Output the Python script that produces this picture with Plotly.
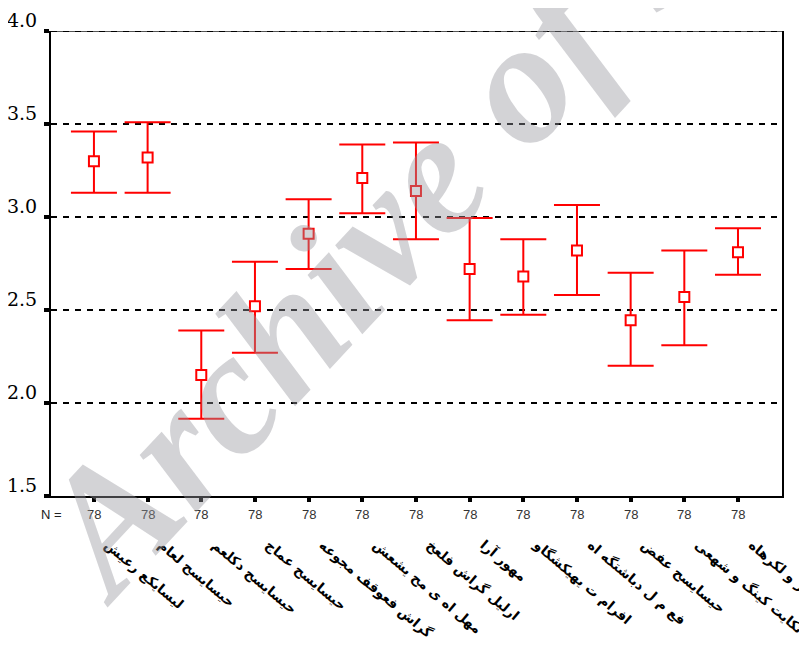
import plotly.graph_objects as go

# ---- data ----
labels = [
    "لیسایکع رعیش",
    "حیسایسح لعام",
    "حیسایسح دکلعم",
    "حیسایسح عماج",
    "گراش فعوقف مجوعه",
    "مهل اه ی مح یشعش",
    "ارلیل گراش فلعخ",
    "مهور آرا",
    "افرام ت یهیکشگاو",
    "فع م ل دباشتگه اه",
    "حیسایسح عفض",
    "تکایت کینگ و شهعی",
    "لنز و لکرهاه",
]
positions = list(range(1, 14))
means = [3.30, 3.32, 2.15, 2.52, 2.91, 3.21, 3.14, 2.72, 2.68, 2.82, 2.445, 2.57, 2.81]
upper = [3.46, 3.51, 2.39, 2.76, 3.095, 3.39, 3.40, 2.995, 2.88, 3.065, 2.70, 2.82, 2.94]
lower = [3.13, 3.13, 1.915, 2.27, 2.72, 3.02, 2.88, 2.445, 2.475, 2.58, 2.20, 2.31, 2.69]
n_values = [78] * 13
y_ticks = [1.5, 2.0, 2.5, 3.0, 3.5, 4.0]
y_ticktext = ["1.5", "2.0", "2.5", "3.0", "3.5", "4.0"]

err_plus = [u - m for u, m in zip(upper, means)]
err_minus = [m - l for m, l in zip(means, lower)]

fig = go.Figure()
fig.add_trace(go.Scatter(
    x=positions, y=means, mode="markers",
    marker=dict(symbol="square", size=10, color="white",
                line=dict(color="#ff0000", width=2)),
    error_y=dict(type="data", symmetric=False, array=err_plus, arrayminus=err_minus,
                 color="#ff0000", thickness=2, width=23),
    showlegend=False, cliponaxis=False,
))

# top border: solid dark line with the dashed grid on top of it
fig.add_shape(type="line", xref="paper", yref="y", x0=0, x1=1, y0=4.0, y1=4.0,
              line=dict(color="#555", width=2))
fig.add_shape(type="line", xref="paper", yref="y", x0=0, x1=1, y0=4.0, y1=4.0,
              line=dict(color="black", width=2, dash="6px,6px"))

# N = row
fig.add_annotation(text="N =", xref="paper", yref="paper", x=0, y=0, xanchor="center",
                   yanchor="middle", yshift=-18, showarrow=False,
                   font=dict(family="Liberation Sans, Arial", size=13, color="#222"))
for p, n in zip(positions, n_values):
    fig.add_annotation(text=str(n), xref="x", yref="paper", x=p, y=0, yanchor="middle",
                       yshift=-18, showarrow=False,
                       font=dict(family="Liberation Sans, Arial", size=13, color="#333"))

# watermark
fig.add_annotation(text="Archive of SID", xref="paper", yref="paper", x=0.53, y=0.71,
                   xanchor="center", yanchor="middle", textangle=-47, showarrow=False,
                   font=dict(family="Liberation Serif", size=175, color="rgba(150,150,158,0.42)",
                             weight="bold", style="italic"))

# the page body has an 8px margin, so the figure is sized to fit the 807x651 window
fig.update_layout(
    width=799, height=643,
    margin=dict(l=43, r=25, t=23, b=155, autoexpand=False),
    plot_bgcolor="white", paper_bgcolor="white",
    xaxis=dict(range=[0.2, 13.82], tickvals=positions, ticktext=labels, tickangle=40,
               automargin=False, ticklabeloverflow="allow",
               showgrid=False, zeroline=False, showline=True, linecolor="black", linewidth=2,
               ticks="outside", ticklen=4, tickwidth=4, tickcolor="black",
               ticklabelstandoff=30, ticklabelshift=14,
               tickfont=dict(family="DejaVu Sans", size=13.5, color="black", weight="bold")),
    yaxis=dict(range=[1.5, 4.0], tickvals=y_ticks, ticktext=y_ticktext, automargin=False,
               showgrid=True, gridcolor="black", gridwidth=2, griddash="6px,6px",
               zeroline=False, showline=True, linecolor="black", linewidth=2, mirror=True,
               ticks="outside", ticklen=5, tickwidth=4, tickcolor="black",
               ticklabelshift=-11, ticklabelstandoff=3,
               tickfont=dict(family="DejaVu Serif", size=19, color="black")),
)

fig.write_html("out.html")
